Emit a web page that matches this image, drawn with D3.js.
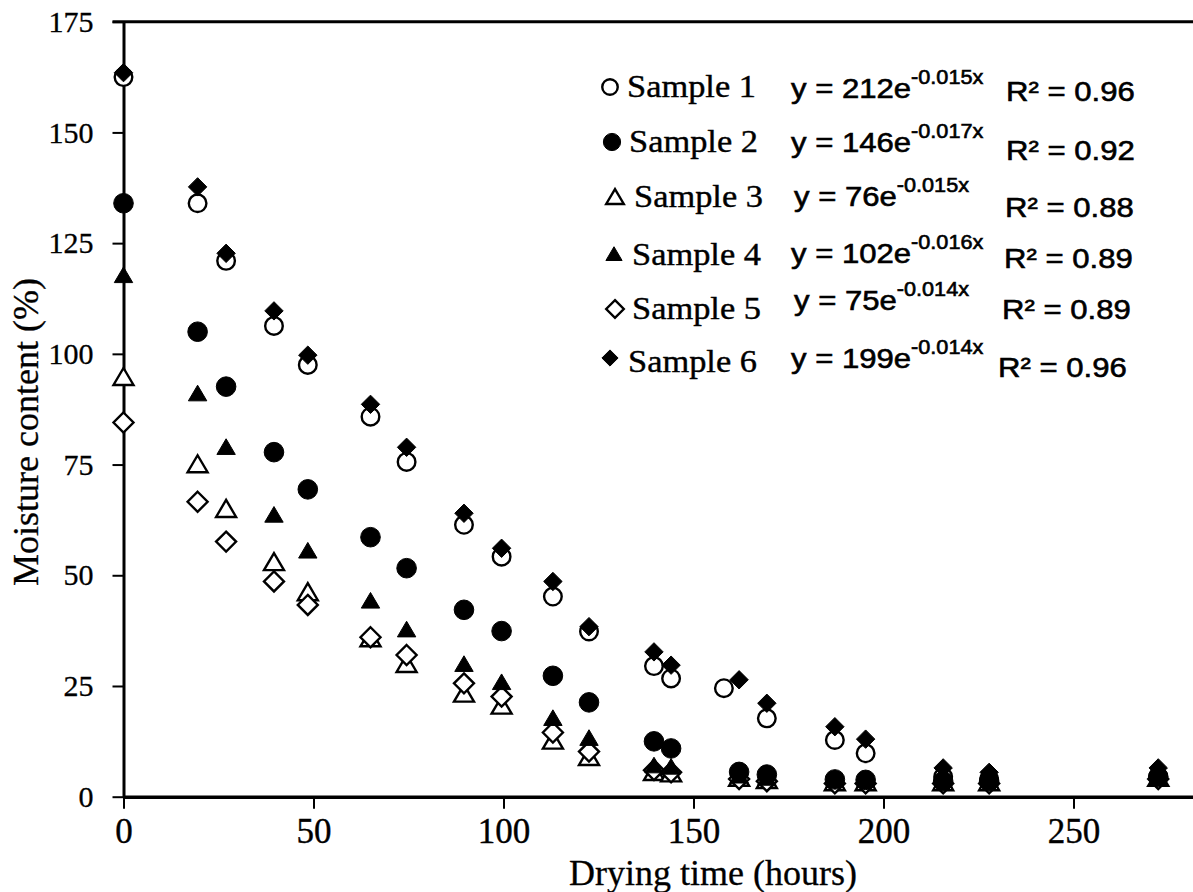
<!DOCTYPE html>
<html>
<head>
<meta charset="utf-8">
<script src="https://cdn.jsdelivr.net/npm/d3@7"></script>
<style>
  html, body { margin: 0; padding: 0; background: #fff; }
  svg { display: block; }
</style>
</head>
<body>
<svg id="chart" width="1193" height="892"></svg>
<script>
// ---------------- DATA ----------------
const hours = [0, 19.5, 27, 39.6, 48.5, 65, 74.5, 89.6, 99.5, 113, 122.5, 139.6, 144.1, 162, 169.3, 187.2, 195.3, 215.7, 227.8, 272.3];
const hoursS1 = [0, 19.5, 27, 39.6, 48.5, 65, 74.5, 89.6, 99.5, 113, 122.5, 139.6, 144.1, 158, 169.3, 187.2, 195.3, 215.7, 227.8, 272.3];

const sample1 = [162.5, 134, 121, 106.3, 97.5, 85.8, 75.6, 61.4, 54.2, 45.2, 37.3, 29.5, 26.7, 24.5, 17.7, 12.8, 9.8, 4.5, 4, 4.5];
const sample2 = [134, 105, 92.6, 77.8, 69.4, 58.6, 51.6, 42.2, 37.4, 27.3, 21.3, 12.5, 10.9, 5.6, 5.0, 3.9, 3.8, 3.5, 3.5, 4.5];
const sample3 = [94.5, 74.8, 64.7, 52.7, 45.9, 35.5, 29.7, 23.0, 20.3, 12.4, 8.7, 5.3, 5, 4, 3.5, 3, 3, 3, 3, 4];
const sample4 = [117.5, 90.8, 78.7, 63.4, 55.3, 44.0, 37.5, 29.7, 25.6, 17.5, 13.0, 6.8, 6.5, 4.5, 4, 3.5, 3.5, 3.5, 3.5, 4];
const sample5 = [84.5, 66.6, 57.6, 48.6, 43.3, 36, 32, 25.6, 22.6, 14.5, 10.2, 6.0, 5.5, 4, 3.5, 3, 3, 3, 3, 4];
const sample6 = [163.5, 137.7, 122.7, 109.7, 99.7, 88.6, 78.9, 64.0, 56.1, 48.6, 38.4, 32.7, 29.7, 26.4, 21.1, 15.8, 13.0, 6.5, 5.5, 6.5];

const seriesNames = ["Sample 1", "Sample 2", "Sample 3", "Sample 4", "Sample 5", "Sample 6"];
const equations = [["212", "-0.015x"], ["146", "-0.017x"], ["76", "-0.015x"], ["102", "-0.016x"], ["75", "-0.014x"], ["199", "-0.014x"]];
const rSquared = ["0.96", "0.92", "0.88", "0.89", "0.89", "0.96"];

const xTicks = [0, 50, 100, 150, 200, 250];
const yTicks = [0, 25, 50, 75, 100, 125, 150, 175];
const xTitle = "Drying time (hours)";
const yTitle = "Moisture content (%)";

// ---------------- STYLE / LAYOUT ----------------
const markers = [
  {shape: "circle", fill: "#fff"},
  {shape: "circle", fill: "#000"},
  {shape: "triangle", fill: "#fff"},
  {shape: "triangle", fill: "#000"},
  {shape: "diamond", fill: "#fff"},
  {shape: "diamond", fill: "#000"}
];
// drawing order: open markers first, filled markers on top
const drawOrder = [0, 2, 4, 1, 3, 5];
// legend row placement (layout only)
const legendLayout = [
  {mx: 610, my: 87,  sx: 627, sy: 97,  ex: 791, ey: 98,  rx: 1006, ry: 101},
  {mx: 612, my: 142, sx: 629, sy: 152, ex: 791, ey: 152, rx: 1006, ry: 160},
  {mx: 615, my: 198, sx: 634, sy: 207, ex: 794, ey: 206, rx: 1005, ry: 217},
  {mx: 614, my: 255, sx: 632, sy: 265, ex: 791, ey: 263, rx: 1004, ry: 268},
  {mx: 615, my: 309, sx: 632, sy: 319, ex: 794, ey: 310, rx: 1002, ry: 319},
  {mx: 610, my: 358, sx: 628, sy: 372, ex: 791, ey: 368, rx: 998,  ry: 377}
];
const legendStretch = 1.11;

const serif = "'Liberation Serif', 'Times New Roman', serif";
const sans = "'Liberation Sans', Arial, sans-serif";

const svg = d3.select("#chart");
const W = 1193, H = 892;

const x = d3.scaleLinear().domain([0, 300]).range([123.5, 123.5 + 3.8 * 300]);
const y = d3.scaleLinear().domain([0, 175]).range([796.7, 21.7]);

function shapePath(shape, s) {
  if (shape === "triangle") {
    const w = 10 * s, h = 17 * s;
    return `M0,${-h * 0.6}L${w},${h * 0.4}L${-w},${h * 0.4}Z`;
  }
  if (shape === "diamond") {
    const w = 10 * s, h = 10 * s;
    return `M0,${-h}L${w},0L0,${h}L${-w},0Z`;
  }
  return null;
}

function drawMarker(g, m, cx, cy, s) {
  const open = m.fill === "#fff";
  const sw = open ? 2.4 : 1;
  if (m.shape === "circle") {
    g.append("circle").attr("cx", cx).attr("cy", cy)
      .attr("r", (open ? 8.8 : 9.8) * s)
      .attr("fill", m.fill).attr("stroke", "#000").attr("stroke-width", sw);
  } else {
    g.append("path").attr("d", shapePath(m.shape, open ? s : s * 0.92))
      .attr("transform", `translate(${cx},${cy})`)
      .attr("fill", m.fill).attr("stroke", "#000").attr("stroke-width", sw)
      .attr("stroke-linejoin", "miter");
  }
}

function boldish(sel, w) {
  return sel.attr("stroke", "#000").attr("stroke-width", w).attr("paint-order", "stroke");
}

// ---------------- AXES ----------------
const xAxis = d3.axisBottom(x).tickValues(xTicks).tickSize(12).tickSizeOuter(0).tickPadding(9);
const yAxis = d3.axisLeft(y).tickValues(yTicks).tickSize(11).tickSizeOuter(0).tickPadding(19);

const gx = svg.append("g").attr("transform", `translate(0,${y(0)})`).call(xAxis);
gx.select(".domain").attr("stroke", "#000").attr("stroke-width", 3.5);
gx.selectAll(".tick line").attr("stroke", "#000").attr("stroke-width", 2);
boldish(gx.selectAll(".tick text").attr("fill", "#000")
  .style("font-family", serif).style("font-size", "35px"), 0.4);

const gy = svg.append("g").attr("transform", `translate(${x(0)},0)`).call(yAxis);
gy.select(".domain").attr("stroke", "#000").attr("stroke-width", 3);
gy.selectAll(".tick line").attr("stroke", "#000").attr("stroke-width", 2);
boldish(gy.selectAll(".tick text").attr("fill", "#000")
  .style("font-family", serif).style("font-size", "30px"), 0.3);

// top frame line
svg.append("line")
  .attr("x1", x(0) - 11).attr("x2", W)
  .attr("y1", y(175)).attr("y2", y(175))
  .attr("stroke", "#000").attr("stroke-width", 3);

// axis titles
boldish(svg.append("text")
  .attr("x", 713).attr("y", 885)
  .attr("text-anchor", "middle")
  .style("font-family", serif).style("font-size", "36px")
  .text(xTitle), 0.3);

boldish(svg.append("text")
  .attr("transform", `translate(38,432) rotate(-90)`)
  .attr("text-anchor", "middle")
  .style("font-family", serif).style("font-size", "36px")
  .text(yTitle), 0.3);

// ---------------- POINTS ----------------
const allSeries = [
  {t: hoursS1, v: sample1},
  {t: hours, v: sample2},
  {t: hours, v: sample3},
  {t: hours, v: sample4},
  {t: hours, v: sample5},
  {t: hours, v: sample6}
];
const gp = svg.append("g");
drawOrder.forEach(i => {
  const s = allSeries[i];
  s.v.forEach((val, j) => {
    drawMarker(gp, markers[i], x(s.t[j]), y(val), 1);
  });
});

// ---------------- LEGEND ----------------
const gl = svg.append("g");
seriesNames.forEach((name, i) => {
  const L = legendLayout[i];
  drawMarker(gl, markers[i], L.mx, L.my, 0.88);
  boldish(gl.append("text").attr("transform", `translate(${L.sx},${L.sy}) scale(${legendStretch},1)`)
    .style("font-family", serif).style("font-size", "31px")
    .text(name), 0.4);
  const eq = boldish(gl.append("text").attr("transform", `translate(${L.ex},${L.ey}) scale(${legendStretch},1)`)
    .style("font-family", sans).style("font-size", "28px"), 0.6);
  eq.append("tspan").text(`y = ${equations[i][0]}e`);
  eq.append("tspan").attr("dy", -14).style("font-size", "19.5px").text(equations[i][1]);
  boldish(gl.append("text").attr("transform", `translate(${L.rx},${L.ry}) scale(${legendStretch},1)`)
    .style("font-family", sans).style("font-size", "28px")
    .text(`R² = ${rSquared[i]}`), 0.6);
});
</script>
</body>
</html>
